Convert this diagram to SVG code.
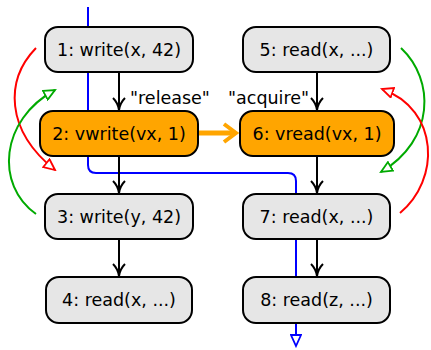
<svg xmlns="http://www.w3.org/2000/svg" width="431" height="350" viewBox="0 0 431 350">
  <style>
    .node rect { stroke: #000; stroke-width: 2; }
    .plain rect { fill: #e6e6e6; }
    .vol rect { fill: #ffa500; }
    text { font-family: "DejaVu Sans", "Liberation Sans", sans-serif; font-size: 17.5px; fill: #000; }
    .node text { text-anchor: middle; }
    .po { stroke: #000; stroke-width: 2; fill: none; }
    .red { stroke: #f00; stroke-width: 2; fill: none; }
    .green { stroke: #0a0; stroke-width: 2; fill: none; }
  </style>
  <defs>
    <marker id="blk" viewBox="0 0 14 14" refX="13" refY="7" markerWidth="14" markerHeight="14" markerUnits="userSpaceOnUse" orient="auto">
      <path d="M1,1 Q6,6 13,7 Q6,8 1,13" fill="none" stroke="#000" stroke-width="2"/>
    </marker>
    <marker id="redTri" viewBox="0 0 14 12" refX="12" refY="6" markerWidth="14" markerHeight="12" markerUnits="userSpaceOnUse" orient="auto">
      <path d="M1,1 L12,6 L1,11 Z" fill="#fff" stroke="#f00" stroke-width="1.8"/>
    </marker>
    <marker id="greenTri" viewBox="0 0 14 12" refX="12" refY="6" markerWidth="14" markerHeight="12" markerUnits="userSpaceOnUse" orient="auto">
      <path d="M1,1 L12,6 L1,11 Z" fill="#fff" stroke="#0a0" stroke-width="1.8"/>
    </marker>
    <marker id="blueTri" viewBox="0 0 14 12" refX="12" refY="6" markerWidth="14" markerHeight="12" markerUnits="userSpaceOnUse" orient="auto">
      <path d="M1,1 L12,6 L1,11 Z" fill="#fff" stroke="#00f" stroke-width="1.8"/>
    </marker>
  </defs>

  <!-- thread execution path -->
  <g id="connectors">
    <path d="M88,7 V165 Q88,173 96,173 H288 Q296,173 296,181 V346" fill="none" stroke="#00f" stroke-width="2" marker-end="url(#blueTri)"/>
    <line class="po" x1="119" y1="72" x2="119" y2="110" marker-end="url(#blk)"/>
    <line class="po" x1="119" y1="156" x2="119" y2="193" marker-end="url(#blk)"/>
    <line class="po" x1="119" y1="239" x2="119" y2="276" marker-end="url(#blk)"/>
    <line class="po" x1="317" y1="72" x2="317" y2="110" marker-end="url(#blk)"/>
    <line class="po" x1="317" y1="156" x2="317" y2="193" marker-end="url(#blk)"/>
    <line class="po" x1="317" y1="239" x2="317" y2="276" marker-end="url(#blk)"/>
    <!-- synchronizes-with -->
    <line x1="199" y1="133" x2="234" y2="133" stroke="#ffa500" stroke-width="5"/>
    <path d="M224,124 L236,133 L224,142" fill="none" stroke="#ffa500" stroke-width="4"/>
    <!-- reorderings -->
    <path class="red" d="M36,48 C5,80 5,130 55,170" marker-end="url(#redTri)"/>
    <path class="green" d="M36,214 C-5,185 0,120 55,90" marker-end="url(#greenTri)"/>
    <path class="green" d="M401,48 C435,80 435,140 381,172" marker-end="url(#greenTri)"/>
    <path class="red" d="M400,213 C440,180 440,110 382,89" marker-end="url(#redTri)"/>
    <text x="130" y="104">"release"</text>
    <text x="228" y="104">"acquire"</text>
  </g>

  <g id="n1" class="node plain"><rect x="45" y="27" width="148" height="45" rx="13"/><text x="119" y="56">1: write(x, 42)</text></g>
  <g id="n2" class="node vol"><rect x="40" y="111" width="158" height="45" rx="13"/><text x="119" y="140">2: vwrite(vx, 1)</text></g>
  <g id="n3" class="node plain"><rect x="45" y="194" width="148" height="45" rx="13"/><text x="119" y="223">3: write(y, 42)</text></g>
  <g id="n4" class="node plain"><rect x="46" y="277" width="146" height="46" rx="13"/><text x="119" y="306">4: read(x, ...)</text></g>
  <g id="n5" class="node plain"><rect x="243" y="27" width="147" height="45" rx="13"/><text x="316.5" y="56">5: read(x, ...)</text></g>
  <g id="n6" class="node vol"><rect x="240" y="111" width="154" height="45" rx="13"/><text x="317" y="140">6: vread(vx, 1)</text></g>
  <g id="n7" class="node plain"><rect x="243" y="194" width="147" height="45" rx="13"/><text x="316.5" y="223">7: read(x, ...)</text></g>
  <g id="n8" class="node plain"><rect x="243" y="277" width="147" height="46" rx="13"/><text x="316.5" y="306">8: read(z, ...)</text></g>
</svg>
